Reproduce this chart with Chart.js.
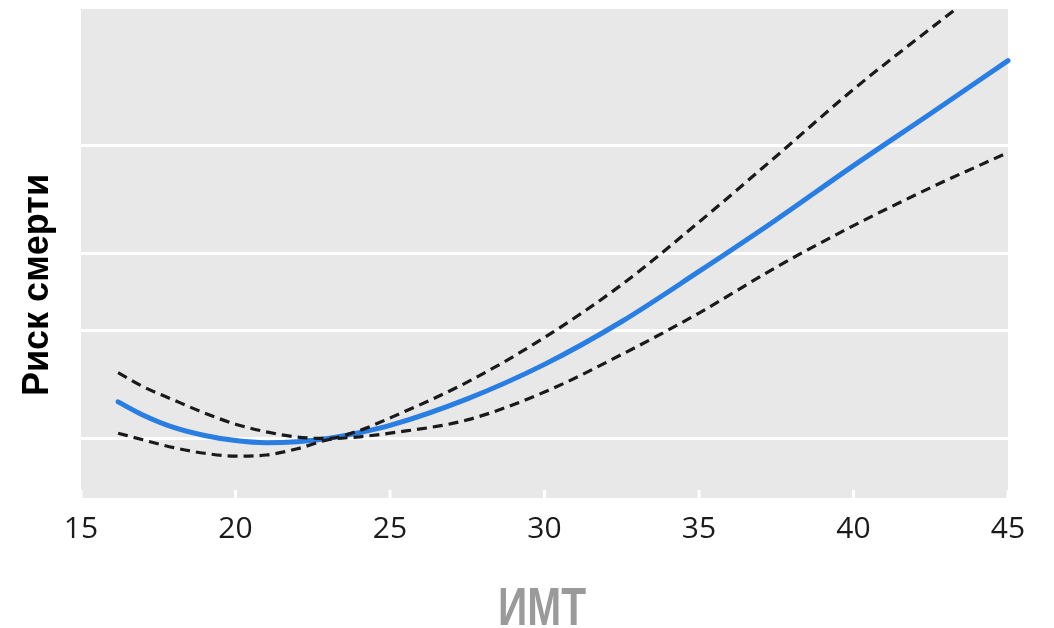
<!DOCTYPE html>
<html>
<head>
<meta charset="utf-8">
<script src="https://cdn.jsdelivr.net/npm/chart.js@4.4.1/dist/chart.umd.min.js"></script>
<style>
  html, body { margin: 0; padding: 0; background: #ffffff; }
  #wrap { width: 1054px; height: 628px; position: relative; }
</style>
</head>
<body>
<div id="wrap"><canvas id="c" width="1054" height="628"></canvas></div>
<script>
// BMI values (x)
const bmi = [16.2, 17, 18, 19, 20, 21, 22, 23, 24, 25, 27.5, 30, 32.5, 35, 37.5, 40, 42.5, 45];
// Hazard ratio (risk of death) estimate
const hrEstimate = [1.147, 1.092, 1.042, 1.011, 0.992, 0.984, 0.988, 1.0, 1.022, 1.05, 1.16, 1.32, 1.55, 1.87, 2.27, 2.78, 3.38, 4.12];
// Upper confidence bound
const hrUpper = [1.28, 1.215, 1.155, 1.10, 1.055, 1.025, 1.005, 1.0, 1.03, 1.08, 1.235, 1.46, 1.78, 2.25, 2.88, 3.70, 4.65, 5.8];
// Lower confidence bound
const hrLower = [1.02, 0.995, 0.966, 0.946, 0.936, 0.94, 0.962, 0.995, 1.006, 1.02, 1.072, 1.19, 1.37, 1.6, 1.9, 2.22, 2.56, 2.92];
// Axis ticks
const xTicks = [15, 20, 25, 30, 35, 40, 45];
const yGridValues = [1, 1.5, 2, 3];
const xTitle = 'ИМТ';
const yTitle = 'Риск смерти';

const toPts = (ys) => bmi.map((x, i) => ({ x: x, y: ys[i] }));

const panelPlugin = {
  id: 'panel',
  beforeDraw(chart) {
    const { ctx, chartArea: a } = chart;
    ctx.save();
    ctx.fillStyle = '#e8e8e8';
    ctx.fillRect(a.left, a.top, a.right - a.left, a.bottom - a.top);
    ctx.restore();
  },
  beforeDatasetsDraw(chart) {
    const { ctx, chartArea: a, scales } = chart;
    ctx.save();
    ctx.strokeStyle = '#ffffff';
    ctx.lineWidth = 3;
    xTicks.forEach(v => {
      const px = scales.x.getPixelForValue(v);
      ctx.beginPath();
      ctx.moveTo(px, a.bottom - 8);
      ctx.lineTo(px, a.bottom);
      ctx.stroke();
    });
    ctx.restore();
  },
  afterDraw(chart) {
    const { ctx } = chart;
    ctx.save();
    // y title
    ctx.fillStyle = '#000000';
    ctx.font = 'bold 36px "Liberation Sans", Arial, sans-serif';
    ctx.textAlign = 'center';
    ctx.textBaseline = 'middle';
    ctx.translate(38, 285);
    ctx.rotate(-Math.PI / 2);
    ctx.fillText(yTitle, 0, 0);
    ctx.restore();
    // x title (condensed)
    ctx.save();
    ctx.fillStyle = '#9a9a9a';
    ctx.font = 'bold 53px "Liberation Sans Narrow", "Liberation Sans", Arial, sans-serif';
    ctx.textAlign = 'center';
    ctx.textBaseline = 'alphabetic';
    ctx.translate(542, 625);
    const w = ctx.measureText(xTitle).width;
    const sx = Math.min(1, 88 / w);
    ctx.scale(sx, 1);
    ctx.fillText(xTitle, 0, 0);
    ctx.restore();
  }
};

new Chart(document.getElementById('c'), {
  type: 'line',
  data: {
    datasets: [
      {
        label: 'upper',
        data: toPts(hrUpper),
        borderColor: '#1a1a1a',
        borderWidth: 3.2,
        borderDash: [10, 6],
        pointRadius: 0,
        cubicInterpolationMode: 'monotone',
        fill: false,
        clip: 0
      },
      {
        label: 'lower',
        data: toPts(hrLower),
        borderColor: '#1a1a1a',
        borderWidth: 3.2,
        borderDash: [10, 6],
        pointRadius: 0,
        cubicInterpolationMode: 'monotone',
        fill: false,
        clip: 0
      },
      {
        label: 'estimate',
        data: toPts(hrEstimate),
        borderColor: '#2a7de1',
        borderWidth: 5,
        borderCapStyle: 'round',
        pointRadius: 0,
        cubicInterpolationMode: 'monotone',
        fill: false,
        clip: 3
      }
    ]
  },
  options: {
    responsive: false,
    animation: false,
    devicePixelRatio: 1,
    layout: { padding: { left: 0, right: 46, top: 9, bottom: 0 } },
    plugins: { legend: { display: false }, tooltip: { enabled: false } },
    scales: {
      x: {
        type: 'linear',
        min: 15,
        max: 45,
        afterBuildTicks: (s) => { s.ticks = xTicks.map(v => ({ value: v })); },
        afterFit: (s) => { s.height = 130; },
        grid: { display: false, drawTicks: false },
        border: { display: false },
        ticks: {
          color: '#1a1a1a',
          padding: 13,
          font: { family: '"Open Sans", sans-serif', size: 30 },
          maxRotation: 0,
          autoSkip: false
        }
      },
      y: {
        type: 'logarithmic',
        min: 0.8,
        max: 5,
        afterBuildTicks: (s) => { s.ticks = yGridValues.map(v => ({ value: v })); },
        afterFit: (s) => { s.width = 81; },
        grid: { color: '#ffffff', lineWidth: 3, drawTicks: false },
        border: { display: false },
        ticks: { display: false }
      }
    }
  },
  plugins: [panelPlugin]
});
</script>
</body>
</html>
